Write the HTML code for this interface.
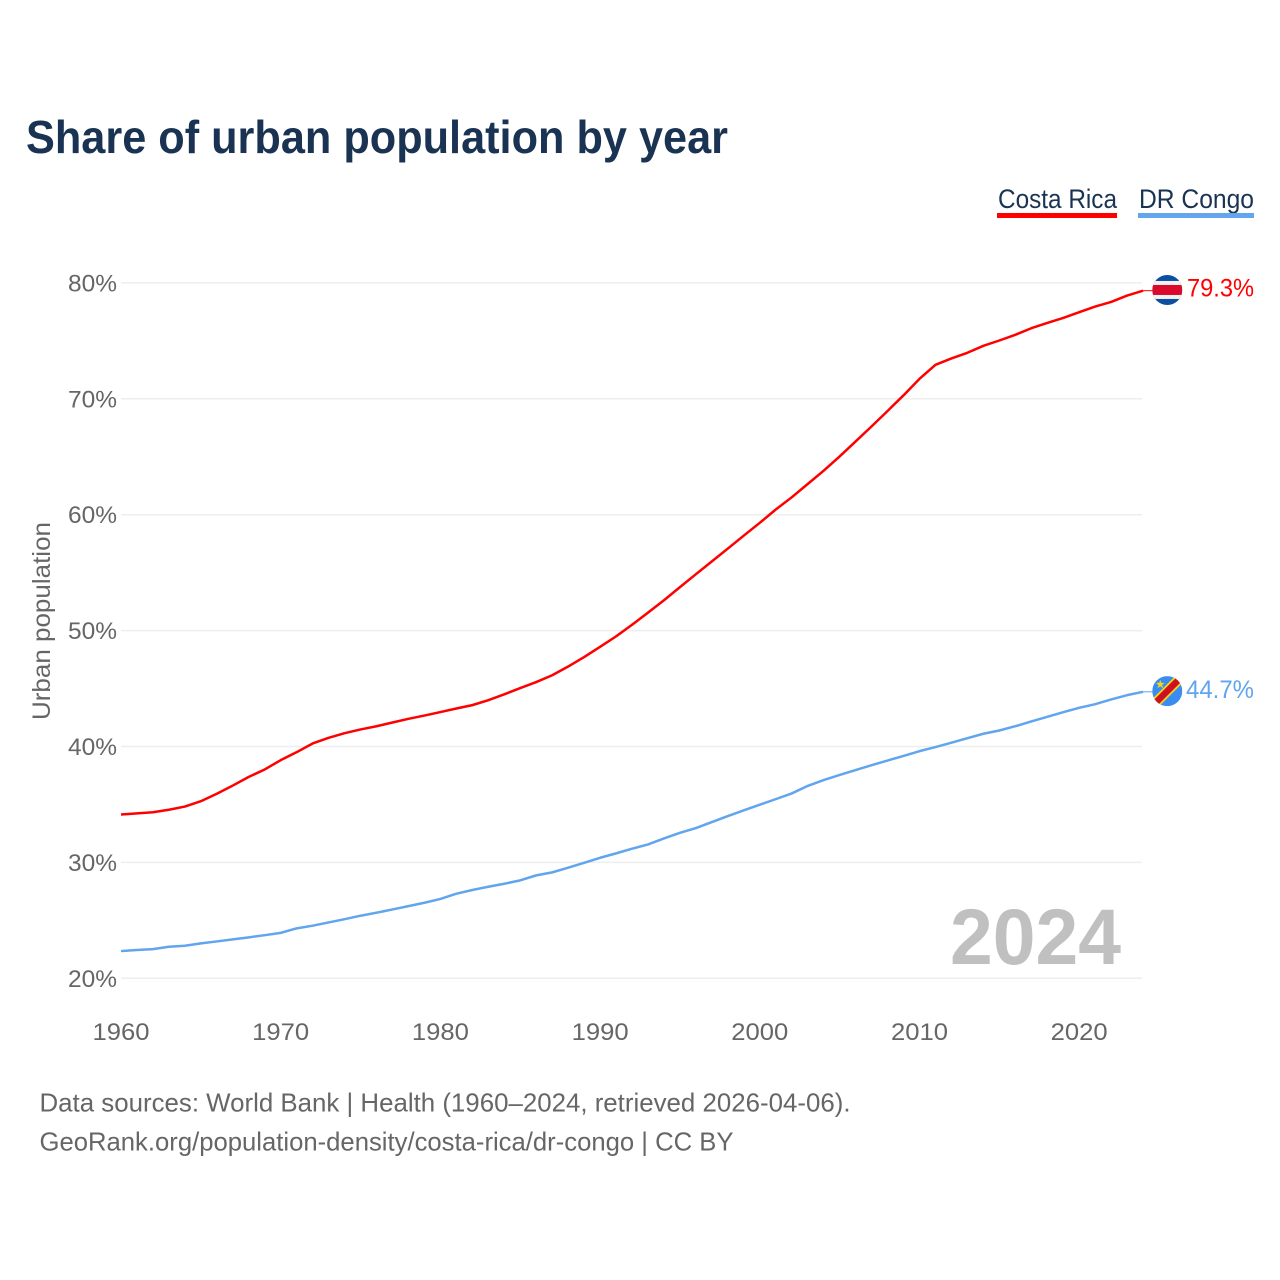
<!DOCTYPE html>
<html lang="en">
<head>
<meta charset="utf-8">
<title>Share of urban population by year</title>
<style>
html,body{margin:0;padding:0;background:#fff;}
svg{display:block;}
text{font-family:"Liberation Sans",sans-serif;}
</style>
</head>
<body>
<svg id="chart" xmlns="http://www.w3.org/2000/svg" width="1280" height="1280" viewBox="0 0 1280 1280">
  <defs>
    <clipPath id="flag-clip-cr"><circle cx="0" cy="0" r="15"></circle></clipPath>
    <clipPath id="flag-clip-cd"><circle cx="0" cy="0" r="15"></circle></clipPath>
  </defs>
  <rect width="1280" height="1280" fill="#ffffff"></rect>
  <text x="26" y="153" font-size="46" font-weight="700" fill="#1a3353" textLength="702" lengthAdjust="spacingAndGlyphs">Share of urban population by year</text>

  <g>
    <text x="998" y="208" font-size="27" fill="#1a3353" textLength="119" lengthAdjust="spacingAndGlyphs">Costa Rica</text>
    <rect x="997" y="213" width="120" height="5" fill="#ff0000"></rect>
  </g>
  <g>
    <text x="1139" y="208" font-size="27" fill="#1a3353" textLength="115" lengthAdjust="spacingAndGlyphs">DR Congo</text>
    <rect x="1138" y="213" width="116" height="5" fill="#63a6ee"></rect>
  </g>

  <g id="grid"></g>
  <g id="yticks"></g>
  <g id="xticks"></g>
  <text transform="translate(50,621) rotate(-90)" text-anchor="middle" font-size="25" fill="#666666" textLength="198" lengthAdjust="spacingAndGlyphs">Urban population</text>

  <text x="1121" y="964" text-anchor="end" font-size="79" font-weight="700" fill="#c0c0c0" textLength="171" lengthAdjust="spacingAndGlyphs">2024</text>

  <g id="series"></g>

  <g id="flag-cr">
    <g clip-path="url(#flag-clip-cr)">
      <rect x="-15" y="-15" width="30" height="30" fill="#0b4ea2"></rect>
      <rect x="-15" y="-9" width="30" height="18" fill="#f2f2f2"></rect>
      <rect x="-15" y="-5" width="30" height="10" fill="#da0a2c"></rect>
    </g>
  </g>
  <g id="flag-cd">
    <g clip-path="url(#flag-clip-cd)">
      <rect x="-15" y="-15" width="30" height="30" fill="#3a8cf0"></rect>
      <line x1="-18" y1="18" x2="18" y2="-18" stroke="#f7d618" stroke-width="10"></line>
      <line x1="-18" y1="18" x2="18" y2="-18" stroke="#ce1021" stroke-width="6.5"></line>
      <polygon points="-7,-11.5 -5.9,-8.2 -2.5,-8.2 -5.2,-6.2 -4.2,-2.9 -7,-4.9 -9.8,-2.9 -8.8,-6.2 -11.5,-8.2 -8.1,-8.2" fill="#f7d618"></polygon>
    </g>
  </g>
  <g id="end-labels"></g>

  <text x="39.5" y="1111.5" font-size="26" fill="#666666" textLength="811" lengthAdjust="spacingAndGlyphs">Data sources: World Bank | Health (1960–2024, retrieved 2026-04-06).</text>
  <text x="39.5" y="1150.5" font-size="26" fill="#666666" textLength="694" lengthAdjust="spacingAndGlyphs">GeoRank.org/population-density/costa-rica/dr-congo | CC BY</text>
</svg>
<script>
const startYear = 1960;
const xTickYears = [1960, 1970, 1980, 1990, 2000, 2010, 2020];
const yTickValues = [20, 30, 40, 50, 60, 70, 80];
const costaRica = [34.13, 34.23, 34.33, 34.54, 34.82, 35.28, 35.92, 36.63, 37.38, 38.02, 38.82, 39.51, 40.26, 40.75, 41.15, 41.47, 41.75, 42.07, 42.39, 42.67, 42.97, 43.28, 43.57, 44.0, 44.5, 45.04, 45.56, 46.15, 46.9, 47.72, 48.6, 49.5, 50.5, 51.55, 52.62, 53.75, 54.87, 55.97, 57.08, 58.2, 59.3, 60.45, 61.5, 62.65, 63.8, 65.03, 66.32, 67.62, 68.95, 70.3, 71.72, 72.93, 73.48, 73.97, 74.57, 75.03, 75.52, 76.09, 76.55, 76.98, 77.47, 77.96, 78.36, 78.91, 79.33];
const drCongo = [22.35, 22.44, 22.52, 22.72, 22.81, 23.01, 23.18, 23.36, 23.53, 23.72, 23.92, 24.31, 24.54, 24.82, 25.1, 25.4, 25.66, 25.94, 26.23, 26.52, 26.85, 27.3, 27.62, 27.9, 28.16, 28.45, 28.88, 29.14, 29.54, 29.96, 30.4, 30.78, 31.18, 31.55, 32.07, 32.55, 32.96, 33.48, 34.0, 34.49, 34.98, 35.46, 35.95, 36.6, 37.1, 37.55, 37.97, 38.39, 38.79, 39.19, 39.6, 39.95, 40.33, 40.72, 41.1, 41.38, 41.75, 42.16, 42.56, 42.96, 43.34, 43.65, 44.06, 44.43, 44.72];
const costaRicaLabel = "79.3%";
const drCongoLabel = "44.7%";

const SVGNS = "http://www.w3.org/2000/svg";
function xScale(year) { return 121 + (year - startYear) * 15.97; }
function yScale(value) { return 978.3 - (value - 20) * 11.59; }
function make(tag, parent) {
  const el = document.createElementNS(SVGNS, tag);
  parent.appendChild(el);
  return el;
}
function setAttrs(el, attrs) {
  Object.keys(attrs).forEach(function (k) { el.setAttribute(k, attrs[k]); });
}
function pathFor(values) {
  return values.map(function (v, i) {
    return (i ? "L" : "M") + xScale(startYear + i).toFixed(2) + " " + yScale(v).toFixed(2);
  }).join(" ");
}

const gridG = document.getElementById("grid");
const yG = document.getElementById("yticks");
yTickValues.forEach(function (v) {
  const ln = make("line", gridG);
  
  
  setAttrs(ln, { x1: 121, x2: 1142, y1: yScale(v), y2: yScale(v), stroke: "#eeeeee", "stroke-width": 1.5 });
  const t = make("text", yG);
  
  
  setAttrs(t, { x: 117, y: yScale(v) + 8.5, "text-anchor": "end", "font-size": 24, fill: "#666666", textLength: 49, lengthAdjust: "spacingAndGlyphs" });
  t.textContent = v + "%";
});

const xG = document.getElementById("xticks");
xTickYears.forEach(function (yr) {
  const t = make("text", xG);
  
  
  setAttrs(t, { x: xScale(yr), y: 1040, "text-anchor": "middle", "font-size": 24, fill: "#666666", textLength: 57, lengthAdjust: "spacingAndGlyphs" });
  t.textContent = String(yr);
});

const seriesG = document.getElementById("series");
const crLine = make("path", seriesG);


setAttrs(crLine, { d: pathFor(costaRica), fill: "none", stroke: "#ff0000", "stroke-width": 2.5, "stroke-linejoin": "round" });
const cdLine = make("path", seriesG);


setAttrs(cdLine, { d: pathFor(drCongo), fill: "none", stroke: "#60a5ee", "stroke-width": 2.5, "stroke-linejoin": "round" });

const lastYear = startYear + costaRica.length - 1;
const endX = xScale(lastYear);
const crEndY = yScale(costaRica[costaRica.length - 1]);
const cdEndY = yScale(drCongo[drCongo.length - 1]);

const crLeader = make("line", seriesG);


setAttrs(crLeader, { x1: endX, x2: endX + 10, y1: crEndY, y2: crEndY, stroke: "#ff0000", "stroke-width": 1 });
const cdLeader = make("line", seriesG);


setAttrs(cdLeader, { x1: endX, x2: endX + 10, y1: cdEndY, y2: cdEndY, stroke: "#60a5ee", "stroke-width": 1 });

document.getElementById("flag-cr").setAttribute("transform", "translate(" + (endX + 24.2) + "," + (crEndY - 0.7) + ")");
document.getElementById("flag-cd").setAttribute("transform", "translate(" + (endX + 24.2) + "," + (cdEndY - 0.7) + ")");

const labelG = document.getElementById("end-labels");
const crText = make("text", labelG);


setAttrs(crText, { x: 1254, y: crEndY + 6, "text-anchor": "end", "font-size": 25, fill: "#ff0000", textLength: 67, lengthAdjust: "spacingAndGlyphs" });
crText.textContent = costaRicaLabel;
const cdText = make("text", labelG);


setAttrs(cdText, { x: 1254, y: cdEndY + 6, "text-anchor": "end", "font-size": 25, fill: "#60a5ee", textLength: 68, lengthAdjust: "spacingAndGlyphs" });
cdText.textContent = drCongoLabel;
</script>
</body>
</html>
